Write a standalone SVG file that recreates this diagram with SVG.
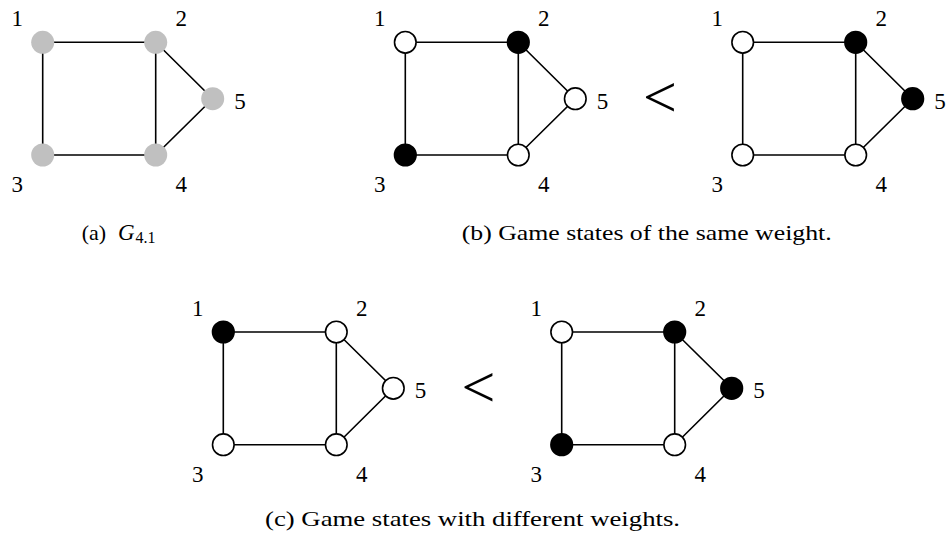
<svg xmlns="http://www.w3.org/2000/svg" width="949" height="539" viewBox="0 0 949 539">
<style>
.e{stroke:#000;stroke-width:1.6;fill:none}
.n{stroke:#000;stroke-width:1.6}
.w{fill:#fff}
.b{fill:#000}
.g{fill:#c0c0c0;stroke:none}
text{font-family:"Liberation Serif","Times New Roman",serif;fill:#000}
.l{font-size:23px;text-anchor:middle}
.cap{font-size:22px}
.lt{font-size:60px;text-anchor:middle}
</style>
<rect width="949" height="539" fill="#fff"/>
<g id="connectors">
<g id="edges-a">
<path class="e" d="M42.7,42.3H155.7M42.7,42.3V155M42.7,155H155.7M155.7,42.3V155M155.7,42.3L212.7,98.7L155.7,155"/>
</g>
<g id="edges-b1">
<path class="e" d="M405.3,42.3H518.3M405.3,42.3V155M405.3,155H518.3M518.3,42.3V155M518.3,42.3L575.3,98.7L518.3,155"/>
</g>
<g id="edges-b2">
<path class="e" d="M742.7,42.3H855.7M742.7,42.3V155M742.7,155H855.7M855.7,42.3V155M855.7,42.3L912.7,98.7L855.7,155"/>
</g>
<g id="edges-c1">
<path class="e" d="M223.3,332H336.3M223.3,332V444.7M223.3,444.7H336.3M336.3,332V444.7M336.3,332L393.3,388.3L336.3,444.7"/>
</g>
<g id="edges-c2">
<path class="e" d="M561.7,332H674.7M561.7,332V444.7M561.7,444.7H674.7M674.7,332V444.7M674.7,332L731.7,388.3L674.7,444.7"/>
</g>
</g>
<!-- panel a -->
<g id="a-n1"><circle class="g" cx="42.7" cy="42.3" r="11.5"/><text class="l" x="17.2" y="26.3">1</text></g>
<g id="a-n2"><circle class="g" cx="155.7" cy="42.3" r="11.5"/><text class="l" x="181.2" y="26.3">2</text></g>
<g id="a-n3"><circle class="g" cx="42.7" cy="155" r="11.5"/><text class="l" x="17.2" y="192">3</text></g>
<g id="a-n4"><circle class="g" cx="155.7" cy="155" r="11.5"/><text class="l" x="181.2" y="192">4</text></g>
<g id="a-n5"><circle class="g" cx="212.7" cy="98.7" r="11.5"/><text class="l" x="240" y="108.7">5</text></g>
<!-- panel b left -->
<g id="b1-n1"><circle class="n w" cx="405.3" cy="42.3" r="10.8"/><text class="l" x="379.8" y="26.3">1</text></g>
<g id="b1-n2"><circle class="n b" cx="518.3" cy="42.3" r="10.8"/><text class="l" x="543.8" y="26.3">2</text></g>
<g id="b1-n3"><circle class="n b" cx="405.3" cy="155" r="10.8"/><text class="l" x="379.8" y="192">3</text></g>
<g id="b1-n4"><circle class="n w" cx="518.3" cy="155" r="10.8"/><text class="l" x="543.8" y="192">4</text></g>
<g id="b1-n5"><circle class="n w" cx="575.3" cy="98.7" r="10.8"/><text class="l" x="602.6" y="108.7">5</text></g>
<text class="lt" x="660" y="117">&lt;</text>
<!-- panel b right -->
<g id="b2-n1"><circle class="n w" cx="742.7" cy="42.3" r="10.8"/><text class="l" x="717.2" y="26.3">1</text></g>
<g id="b2-n2"><circle class="n b" cx="855.7" cy="42.3" r="10.8"/><text class="l" x="881.2" y="26.3">2</text></g>
<g id="b2-n3"><circle class="n w" cx="742.7" cy="155" r="10.8"/><text class="l" x="717.2" y="192">3</text></g>
<g id="b2-n4"><circle class="n w" cx="855.7" cy="155" r="10.8"/><text class="l" x="881.2" y="192">4</text></g>
<g id="b2-n5"><circle class="n b" cx="912.7" cy="98.7" r="10.8"/><text class="l" x="940" y="108.7">5</text></g>
<!-- captions a, b -->
<text class="cap" x="81.7" y="240">(a) <tspan x="118" font-style="italic" font-size="23">G</tspan><tspan x="135.5" dy="3" font-size="16">4.1</tspan></text>
<text class="cap" x="461.7" y="240" textLength="370" lengthAdjust="spacingAndGlyphs">(b) Game states of the same weight.</text>
<!-- panel c left -->
<g id="c1-n1"><circle class="n b" cx="223.3" cy="332" r="10.8"/><text class="l" x="197.8" y="316">1</text></g>
<g id="c1-n2"><circle class="n w" cx="336.3" cy="332" r="10.8"/><text class="l" x="361.8" y="316">2</text></g>
<g id="c1-n3"><circle class="n w" cx="223.3" cy="444.7" r="10.8"/><text class="l" x="197.8" y="481.7">3</text></g>
<g id="c1-n4"><circle class="n w" cx="336.3" cy="444.7" r="10.8"/><text class="l" x="361.8" y="481.7">4</text></g>
<g id="c1-n5"><circle class="n w" cx="393.3" cy="388.3" r="10.8"/><text class="l" x="420.6" y="398.3">5</text></g>
<text class="lt" x="478.5" y="406.6">&lt;</text>
<!-- panel c right -->
<g id="c2-n1"><circle class="n w" cx="561.7" cy="332" r="10.8"/><text class="l" x="536.2" y="316">1</text></g>
<g id="c2-n2"><circle class="n b" cx="674.7" cy="332" r="10.8"/><text class="l" x="700.2" y="316">2</text></g>
<g id="c2-n3"><circle class="n b" cx="561.7" cy="444.7" r="10.8"/><text class="l" x="536.2" y="481.7">3</text></g>
<g id="c2-n4"><circle class="n w" cx="674.7" cy="444.7" r="10.8"/><text class="l" x="700.2" y="481.7">4</text></g>
<g id="c2-n5"><circle class="n b" cx="731.7" cy="388.3" r="10.8"/><text class="l" x="759" y="398.3">5</text></g>
<text class="cap" x="265" y="526" textLength="415" lengthAdjust="spacingAndGlyphs">(c) Game states with different weights.</text>
</svg>
